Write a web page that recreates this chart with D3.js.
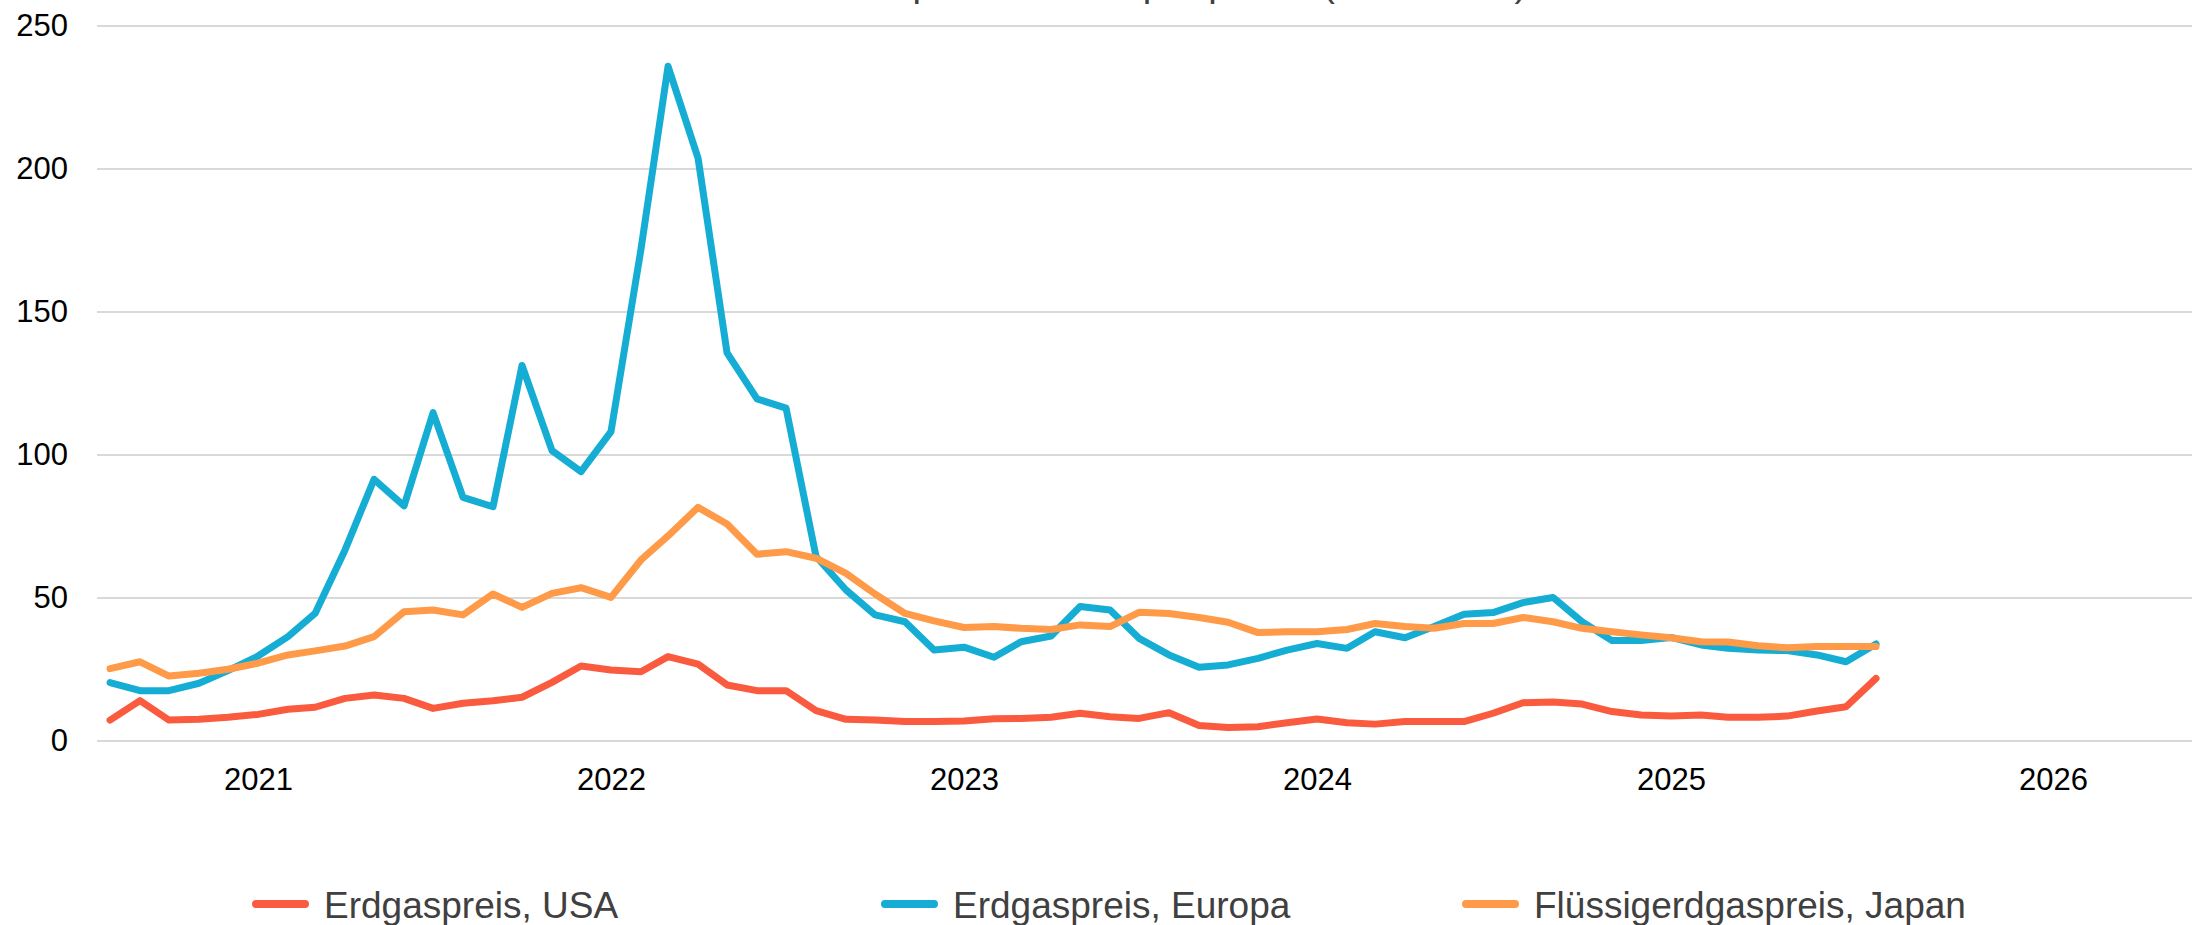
<!DOCTYPE html>
<html>
<head>
<meta charset="utf-8">
<script src="https://cdn.jsdelivr.net/npm/d3@7"></script>
<style>
  body { margin: 0; background: #fff; overflow: hidden; }
  text { font-family: "Liberation Sans", Arial, sans-serif; }
</style>
</head>
<body>
<script>
var width = 2192;
var height = 925;

// monthly values, Aug 2020 - Aug 2025
var usa = [7.3, 14.1, 7.3, 7.6, 8.3, 9.3, 11.1, 11.8, 14.9, 16.1, 14.9, 11.4,
  13.2, 14.1, 15.3, 20.5, 26.2, 24.8, 24.2, 29.5, 26.9, 19.6, 17.6, 17.6,
  10.6, 7.6, 7.3, 6.8, 6.8, 7.0, 7.8, 7.9, 8.3, 9.7, 8.5, 7.9,
  9.9, 5.4, 4.7, 5.0, 6.4, 7.7, 6.4, 5.9, 6.8, 6.8, 6.8, 9.7,
  13.4, 13.6, 12.9, 10.3, 9.1, 8.7, 9.1, 8.3, 8.3, 8.7, 10.5, 12.0, 21.9];
var europa = [20.4, 17.6, 17.6, 20.2, 24.6, 29.7, 36.5, 44.6, 66.8, 91.5, 82.2, 114.8,
  85.2, 81.9, 131.3, 101.5, 94.2, 108.2, 172, 235.9, 203.8, 135.7, 119.6, 116.4,
  64.5, 52.8, 44.1, 41.7, 31.8, 32.8, 29.3, 34.7, 36.7, 47.0, 45.8, 35.9,
  30.1, 25.8, 26.6, 28.9, 31.8, 34.1, 32.4, 38.2, 36.1, 40.0, 44.3, 44.9,
  48.4, 50.2, 41.7, 35.1, 35.1, 36.2, 33.6, 32.4, 31.8, 31.6, 30.1, 27.7, 33.9];
var japan = [25.3, 27.7, 22.7, 23.7, 25.1, 27.2, 30.1, 31.5, 33.2, 36.5, 45.2, 45.8,
  44.1, 51.4, 46.7, 51.6, 53.6, 50.2, 63.3, 71.7, 81.7, 75.9, 65.3, 66.2,
  63.9, 58.6, 51.4, 44.6, 42.0, 39.7, 40.0, 39.4, 39.0, 40.6, 40.0, 45.0,
  44.6, 43.2, 41.5, 37.9, 38.2, 38.2, 39.0, 41.1, 40.0, 39.4, 41.1, 41.1,
  43.2, 41.7, 39.4, 38.2, 37.1, 36.1, 34.7, 34.6, 33.3, 32.6, 33.0, 33.0, 33.0];

var months = d3.timeMonth.range(new Date(2020, 7, 1), new Date(2025, 8, 1));
var years = [2021, 2022, 2023, 2024, 2025, 2026];
var yTicks = [0, 50, 100, 150, 200, 250];

var seriesNames = ["Erdgaspreis, USA", "Erdgaspreis, Europa", "Flüssigerdgaspreis, Japan"];
var seriesColors = ["#fa5b3e", "#15add4", "#fe9a48"];
var seriesData = [usa, europa, japan];

var titleText = "Großhandelspreise und Importpreise (USD/MWh)";

var svg = d3.select("body").append("svg")
    .attr("width", width)
    .attr("height", height);

var x = d3.scaleTime()
    .domain([new Date(2021, 0, 1), new Date(2025, 0, 1)])
    .range([258, 1671]);

var y = d3.scaleLinear()
    .domain([0, 250])
    .range([741, 26]);

// title, mostly cut off at the top (as in the source)
svg.append("text")
    .attr("x", 1110)
    .attr("y", -4)
    .attr("text-anchor", "middle")
    .attr("font-size", 38)
    .attr("fill", "#404040")
    .text(titleText);

// gridlines
svg.append("g")
  .selectAll("line")
  .data(yTicks)
  .enter().append("line")
    .attr("x1", 97)
    .attr("x2", width)
    .attr("y1", function(d) { return y(d); })
    .attr("y2", function(d) { return y(d); })
    .attr("stroke", "#d9d9d9")
    .attr("stroke-width", 2);

var yAxis = svg.append("g")
    .attr("transform", "translate(68,0)")
    .call(d3.axisLeft(y).tickValues(yTicks).tickSize(0).tickPadding(0));
yAxis.select(".domain").remove();
yAxis.selectAll("text")
    .attr("font-size", 31)
    .attr("font-family", "Liberation Sans, Arial, sans-serif")
    .attr("fill", "#000");

var xAxis = svg.append("g")
    .attr("transform", "translate(0,741)")
    .call(d3.axisBottom(x)
      .tickValues(years.map(function(d) { return new Date(d, 0, 1); }))
      .tickFormat(d3.timeFormat("%Y"))
      .tickSize(0).tickPadding(0));
xAxis.select(".domain").remove();
xAxis.selectAll("text")
    .attr("font-size", 31)
    .attr("font-family", "Liberation Sans, Arial, sans-serif")
    .attr("fill", "#000")
    .attr("dy", 0)
    .attr("y", 49)
    .attr("dx", function(d) { return d.getFullYear() == 2026 ? 29 : 0; });

var line = d3.line()
    .x(function(d, i) { return x(months[i]); })
    .y(function(d) { return y(d); });

svg.append("g")
  .selectAll("path")
  .data(seriesData)
  .enter().append("path")
    .attr("d", line)
    .attr("fill", "none")
    .attr("stroke", function(d, i) { return seriesColors[i]; })
    .attr("stroke-width", 7)
    .attr("stroke-linejoin", "round")
    .attr("stroke-linecap", "round");

// legend
var legendX = [252, 881, 1462];
var legend = svg.append("g")
  .selectAll("g")
  .data(seriesNames)
  .enter().append("g")
    .attr("transform", function(d, i) { return "translate(" + legendX[i] + ",904)"; });

legend.append("line")
    .attr("x1", 4)
    .attr("x2", 53)
    .attr("stroke", function(d, i) { return seriesColors[i]; })
    .attr("stroke-width", 8)
    .attr("stroke-linecap", "round");

legend.append("text")
    .attr("x", 72)
    .attr("y", 14)
    .attr("font-size", 37)
    .attr("fill", "#404040")
    .text(function(d) { return d; });
</script>
</body>
</html>
